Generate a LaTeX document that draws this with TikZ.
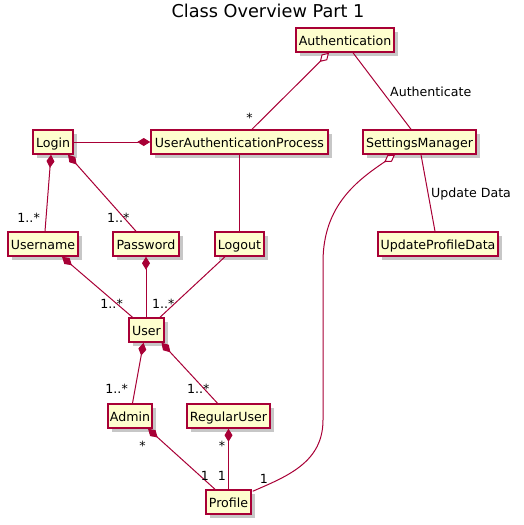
\documentclass[tikz,border=0pt]{standalone}
\usepackage{fontspec}
\setmainfont{DejaVu Sans}
\usetikzlibrary{arrows.meta,calc,shadows}
\definecolor{umlborder}{HTML}{A80036}
\definecolor{umlfill}{HTML}{FEFECE}
\begin{document}
\begin{tikzpicture}[x=1pt,y=-1pt,
  cls/.style={draw=umlborder, line width=1.5pt, fill=umlfill, minimum height=24pt, inner sep=0pt,
    text height=11.5pt, text depth=0pt,
    font=\fontsize{12.6}{15}\selectfont,
    drop shadow={shadow xshift=3.5pt,shadow yshift=-3.5pt,opacity=0.22,fill=black}},
  conn/.style={draw=umlborder, line width=1pt},
  comp/.style={conn, {Diamond[length=13pt,width=8pt,fill=umlborder]}-},
  aggr/.style={conn, {Diamond[open,length=13pt,width=8pt,fill=white]}-},
  lbl/.style={font=\fontsize{12.6}{15}\selectfont, inner sep=0pt, text=black}]
\useasboundingbox (0,0) rectangle (523,525);

\node[font=\fontsize{17.7}{20}\selectfont, inner sep=0pt, anchor=base] (title) at (268,17.5) {Class Overview Part 1};

\node[cls, minimum width=98pt]  (auth) at (345,40) {Authentication};
\node[cls, minimum width=40pt]  (login) at (53,142) {Login};
\node[cls, minimum width=177pt] (uap) at (239.5,142) {UserAuthenticationProcess};
\node[cls, minimum width=113pt] (sm) at (419.5,142) {SettingsManager};
\node[cls, minimum width=70pt]  (uname) at (43,244) {Username};
\node[cls, minimum width=66pt]  (pwd) at (146,244) {Password};
\node[cls, minimum width=49pt]  (logout) at (239.5,244) {Logout};
\node[cls, minimum width=120pt] (upd) at (438,244) {UpdateProfileData};
\node[cls, minimum width=35pt]  (user) at (146.5,330) {User};
\node[cls, minimum width=44pt]  (admin) at (130,416) {Admin};
\node[cls, minimum width=83pt]  (reg) at (228.5,416) {RegularUser};
\node[cls, minimum width=45pt]  (profile) at (228.5,502) {Profile};

% Authentication o-- UserAuthenticationProcess
\draw[aggr] ($(auth.south)+(-16,0)$) -- ($(uap.north)+(12.5,0)$);
\node[lbl, anchor=base] (l1) at (249.5,122) {*};
% Authentication -- SettingsManager
\draw[conn] ($(auth.south)+(8,0)$) -- ($(sm.north)+(-8.5,0)$);
\node[lbl, anchor=base west] (l2) at (390,96) {Authenticate};
% Login *-- UserAuthenticationProcess
\draw[conn, -{Diamond[length=13pt,width=8pt,fill=umlborder]}] (login.east) -- (uap.west);
% Login *-- Username
\draw[comp] ($(login.south)+(-2,0)$) -- ($(uname.north)+(2,0)$);
\node[lbl, anchor=base east] (l3) at (40,222) {1..*};
% Login *-- Password
\draw[comp] ($(login.south)+(15,0)$) -- ($(pwd.north)+(-10,0)$);
\node[lbl, anchor=base west] (l4) at (107,222) {1..*};
% UAP -- Logout
\draw[conn] (uap.south) -- (logout.north);
% SettingsManager o-- Profile
\draw[aggr] ($(sm.south)+(-24.5,0)$) .. controls (358,180) and (323,205) .. (323,262)
  -- (323,420) .. controls (323,462) and (288,476) .. ($(profile.north east)+(1,2)$);
\node[lbl, anchor=base] (l5) at (264,483) {1};
% SettingsManager -- UpdateProfileData
\draw[conn] ($(sm.south)+(1.5,0)$) -- ($(upd.north)+(-3,0)$);
\node[lbl, anchor=base west] (l6) at (431,197) {Update Data};
% Username *-- User
\draw[comp] ($(uname.south)+(19,0)$) -- ($(user.north)+(-14,0)$);
\node[lbl, anchor=base east] (l7) at (123,308) {1..*};
% Password *-- User
\draw[comp] (pwd.south) -- ($(user.north)+(-0.5,0)$);
% Logout -- User
\draw[conn] ($(logout.south)+(-14.5,0)$) -- ($(user.north)+(13.5,0)$);
\node[lbl, anchor=base west] (l8) at (152,308) {1..*};
% User *-- Admin
\draw[comp] ($(user.south)+(-3,0)$) -- ($(admin.north)+(2.5,0)$);
\node[lbl, anchor=base east] (l9) at (128,393) {1..*};
% User *-- RegularUser
\draw[comp] ($(user.south)+(15,0)$) -- ($(reg.north)+(-11,0)$);
\node[lbl, anchor=base west] (l10) at (187,393) {1..*};
% Admin *-- Profile
\draw[comp] ($(admin.south)+(18,0)$) -- ($(profile.north)+(-13.5,0)$);
\node[lbl, anchor=base] (l11) at (142.5,450) {*};
\node[lbl, anchor=base] (l12) at (205,480) {1};
% RegularUser *-- Profile
\draw[comp] (reg.south) -- (profile.north);
\node[lbl, anchor=base] (l13) at (222,450) {*};
\node[lbl, anchor=base] (l14) at (222,480) {1};
\end{tikzpicture}
\end{document}
